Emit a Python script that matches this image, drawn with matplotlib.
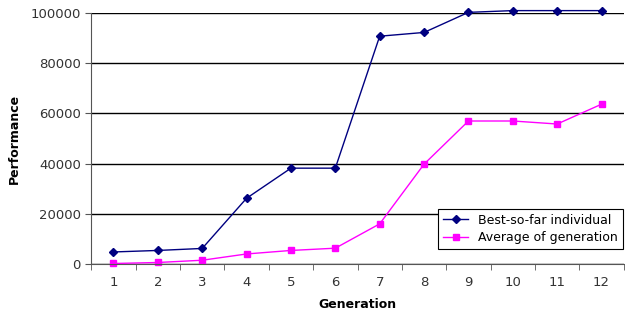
import matplotlib
matplotlib.use("Agg")
import matplotlib.pyplot as plt

generations = [1, 2, 3, 4, 5, 6, 7, 8, 9, 10, 11, 12]
best_so_far = [4800, 5400, 6200, 26200, 38200, 38200, 90800, 92300, 100300, 101000, 101000, 101000]
average_gen = [200, 600, 1500, 4000, 5400, 6300, 16000, 39800, 57000, 57000, 55800, 63700]
y_ticks = [0, 20000, 40000, 60000, 80000, 100000]

C_BEST, C_AVG = "#000080", "#FF00FF"

fig = plt.figure(figsize=(6.25, 3.2), dpi=100)
ax = fig.add_axes([0.146, 0.175, 0.852, 0.784])

ax.plot(generations, best_so_far, color=C_BEST, lw=1.0, marker="D", ms=4.5,
        label="Best-so-far individual", clip_on=False)
ax.plot(generations, average_gen, color=C_AVG, lw=1.0, marker="s", ms=5,
        label="Average of generation", clip_on=False)

ax.set_xlim(0.5, 12.5)
ax.set_ylim(0, 100000)
ax.set_yticks(y_ticks)
ax.set_xticks(generations)
ax.set_xticks([g - 0.5 for g in generations] + [12.5], minor=True)
ax.tick_params(axis="x", which="major", length=0, pad=9, labelsize=9.5, colors="#333333")
ax.tick_params(axis="x", which="minor", length=4, direction="out", color="#555555")
ax.tick_params(axis="y", length=4, direction="out", labelsize=9.5, colors="#333333",
               color="#555555")
ax.grid(axis="y", color="black", lw=1.0)
ax.set_axisbelow(True)
for s in ("top", "right"):
    ax.spines[s].set_visible(False)
ax.spines["left"].set_color("#555555")
ax.spines["bottom"].set_color("#555555")

ax.set_xlabel("Generation", fontsize=9, fontweight="bold", labelpad=6)
ax.set_ylabel("Performance", fontsize=9, fontweight="bold", labelpad=7)

leg = ax.legend(loc="lower right", bbox_to_anchor=(1.01, 0.035), fontsize=9,
                frameon=True, fancybox=False, framealpha=1, edgecolor="black",
                borderpad=0.4, handlelength=2.0, labelspacing=0.35)
leg.get_frame().set_linewidth(0.8)

fig.savefig("out.png", dpi=100)
